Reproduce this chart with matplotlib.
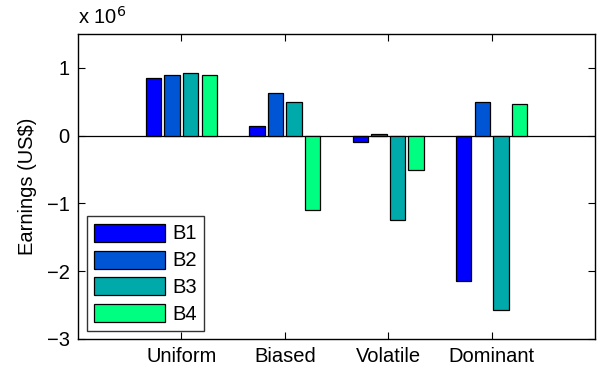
import matplotlib
matplotlib.use("Agg")
import matplotlib.pyplot as plt
import numpy as np
from matplotlib.ticker import FuncFormatter

plt.rcParams['font.family'] = ['Liberation Sans', 'DejaVu Sans']

categories = ["Uniform", "Biased", "Volatile", "Dominant"]
series_names = ["B1", "B2", "B3", "B4"]
B1 = [845000, 146000, -100000, -2150000]
B2 = [900000, 625000, 25000, 500000]
B3 = [927000, 500000, -1250000, -2570000]
B4 = [900000, -1100000, -500000, 470000]
colors = ["#0000FF", "#0055D4", "#00AAAA", "#00FF80"]

FS = 14.5

fig = plt.figure(figsize=(5.98, 3.70), dpi=100)
ax = fig.add_axes([78/598, 31/370, (595-78)/598, (339-34)/370])

x = np.arange(1, len(categories) + 1)
width = 0.15
offsets = [-0.27, -0.09, 0.09, 0.27]
for vals, name, c, off in zip([B1, B2, B3, B4], series_names, colors, offsets):
    ax.bar(x + off, vals, width=width, color=c, edgecolor='black', linewidth=0.9, label=name, zorder=2)

ax.axhline(0, color='black', linewidth=0.9, zorder=1)
ax.set_xlim(0, 5)
ax.set_ylim(-3e6, 1.5e6)
ax.set_xticks(x)
ax.set_xticklabels(categories)
ax.set_yticks([-3e6, -2e6, -1e6, 0, 1e6])
ax.yaxis.set_major_formatter(FuncFormatter(lambda v, p: f"{v/1e6:.0f}".replace('-', '\u2212')))
ax.tick_params(direction='in', length=5, width=0.8, top=True, right=True, labelsize=FS, pad=6)
for s in ax.spines.values():
    s.set_linewidth(1.0)
ax.set_ylabel("Earnings (US\\$)", fontsize=FS, labelpad=7)
fig.text(78/598, 346/370, "x 10$^{6}$", fontsize=FS, ha='left', va='baseline')

leg = ax.legend(loc='lower left', bbox_to_anchor=(0.018, 0.025), fontsize=FS, frameon=True,
                fancybox=False, edgecolor='black', handlelength=3.5, handleheight=1.0,
                labelspacing=0.35, handletextpad=0.35, borderpad=0.35, borderaxespad=0)
leg.get_frame().set_linewidth(1.0)

fig.savefig("out.png", dpi=100)
